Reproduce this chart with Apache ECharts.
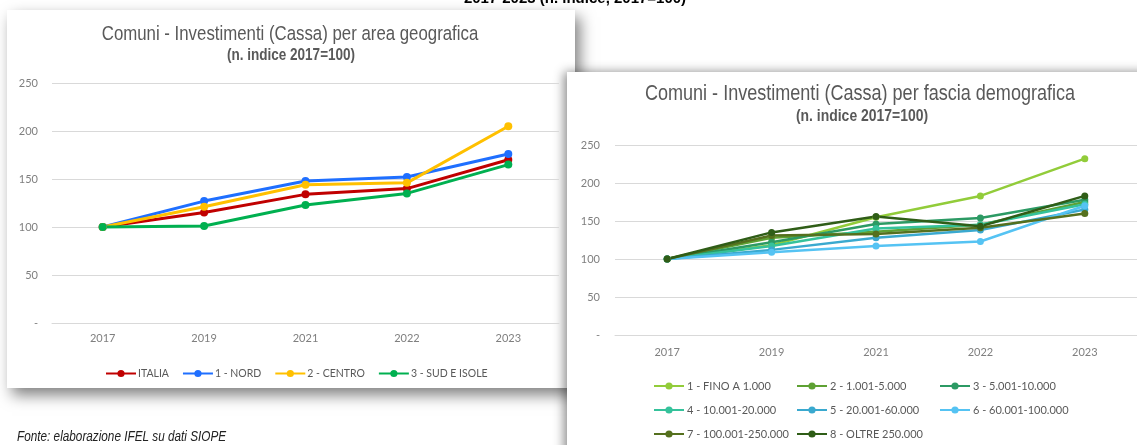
<!DOCTYPE html>
<html>
<head>
<meta charset="utf-8">
<script src="https://cdn.jsdelivr.net/npm/echarts@6/dist/echarts.min.js"></script>
<style>
  html, body { margin: 0; padding: 0; background: #fff; }
  #main { width: 1137px; height: 445px; }
</style>
</head>
<body>
<div id="main"></div>
<script>
var anni = ['2017', '2019', '2021', '2022', '2023'];
var yTicks = [0, 50, 100, 150, 200, 250];

// area geografica
var areeNomi = ['ITALIA', '1 - NORD', '2 - CENTRO', '3 - SUD E ISOLE'];
var italia = [100, 115, 134, 140, 170];
var nord = [100, 127, 148, 152, 176];
var centro = [100, 121, 144, 146, 205];
var sud = [100, 101, 123, 135, 165];
var areeValori = [italia, nord, centro, sud];
var areeColori = ['#c00000', '#1f6fff', '#ffc000', '#00b050'];

// fascia demografica
var fasceNomi = ['1 - FINO A 1.000', '2 - 1.001-5.000', '3 - 5.001-10.000', '4 - 10.001-20.000',
  '5 - 20.001-60.000', '6 - 60.001-100.000', '7 - 100.001-250.000', '8 - OLTRE 250.000'];
var fascia1 = [100, 118, 155, 183, 232];
var fascia2 = [100, 128, 136, 145, 175];
var fascia3 = [100, 122, 146, 154, 178];
var fascia4 = [100, 117, 140, 145, 172];
var fascia5 = [100, 112, 128, 138, 165];
var fascia6 = [100, 109, 117, 123, 170];
var fascia7 = [100, 131, 133, 141, 160];
var fascia8 = [100, 135, 156, 143, 183];
var fasceValori = [fascia1, fascia2, fascia3, fascia4, fascia5, fascia6, fascia7, fascia8];
var fasceColori = ['#92cc3a', '#5ea133', '#2c9a64', '#35c29b', '#3aa9cf', '#55c3f3', '#55701e', '#2f5d17'];

var arial = "'Liberation Sans', Arial, sans-serif";
var labelFont = "Lato, 'Open Sans', sans-serif";

var myChart = echarts.init(document.getElementById('main'));

function asseY(idx) {
  return {
    type: 'value', gridIndex: idx,
    min: yTicks[0], max: yTicks[yTicks.length - 1], interval: 50,
    axisLine: { show: false }, axisTick: { show: false },
    axisLabel: {
      color: '#7f7f7f', fontSize: 11, fontFamily: labelFont, margin: idx === 0 ? 14 : 15,
      formatter: function (v) { return v === 0 ? '-' : v; }
    },
    splitLine: { lineStyle: { color: '#d9d9d9', width: 1 } }
  };
}
function asseX(idx) {
  return {
    type: 'category', gridIndex: idx, data: anni, boundaryGap: true,
    axisLine: { lineStyle: { color: '#d9d9d9' } }, axisTick: { show: false },
    axisLabel: { color: '#7f7f7f', fontSize: 11, fontFamily: labelFont, margin: idx === 0 ? 10 : 12 }
  };
}
// testo "narrow": Arial compresso in orizzontale
function testo(x, y, txt, font, fill, align, sx) {
  return { type: 'text', z: 10, x: x, y: y, scaleX: sx,
    style: { text: txt, font: font, fill: fill, textAlign: align, textVerticalAlign: 'middle' } };
}

var series = [];
for (var i = 0; i < areeNomi.length; i++) {
  series.push({
    name: areeNomi[i], type: 'line', xAxisIndex: 0, yAxisIndex: 0,
    data: areeValori[i], symbol: 'circle', symbolSize: 8,
    lineStyle: { width: 3, color: areeColori[i] },
    itemStyle: { color: areeColori[i] }
  });
}
for (var j = 0; j < fasceNomi.length; j++) {
  series.push({
    name: fasceNomi[j], type: 'line', xAxisIndex: 1, yAxisIndex: 1,
    data: fasceValori[j], symbol: 'circle', symbolSize: 7,
    lineStyle: { width: 2.5, color: fasceColori[j] },
    itemStyle: { color: fasceColori[j] }
  });
}

var option = {
  backgroundColor: '#ffffff',
  animation: false,
  graphic: [
    // pannello sinistro
    { type: 'rect', z: -20, shape: { x: 7, y: 10, width: 568, height: 378 },
      style: { fill: '#fff', shadowBlur: 14, shadowOffsetX: 5, shadowOffsetY: 7, shadowColor: 'rgba(0,0,0,0.5)' } },
    // pannello destro
    { type: 'rect', z: -15, shape: { x: 567, y: 72, width: 600, height: 400 },
      style: { fill: '#fff', shadowBlur: 10, shadowOffsetX: -3, shadowOffsetY: 0, shadowColor: 'rgba(0,0,0,0.45)' } },
    testo(575, -1, '2017-2023 (n. indice, 2017=100)', 'bold 15px ' + arial, '#000', 'center', 1),
    testo(290, 34, 'Comuni - Investimenti (Cassa) per area geografica', '20.5px ' + arial, '#595959', 'center', 0.82),
    testo(291, 55, '(n. indice 2017=100)', 'bold 16.5px ' + arial, '#595959', 'center', 0.82),
    testo(860, 94, 'Comuni - Investimenti (Cassa) per fascia demografica', '22px ' + arial, '#595959', 'center', 0.82),
    testo(862, 116, '(n. indice 2017=100)', 'bold 17px ' + arial, '#595959', 'center', 0.82),
    testo(17, 437, 'Fonte: elaborazione IFEL su dati SIOPE', 'italic 14px ' + arial, '#222', 'left', 0.84)
  ],
  grid: [
    { left: 52, top: 83, width: 507, height: 240 },
    { left: 615, top: 145, width: 522, height: 190 }
  ],
  xAxis: [asseX(0), asseX(1)],
  yAxis: [asseY(0), asseY(1)],
  legend: [
    { data: areeNomi, left: 100, top: 363, itemWidth: 30, itemHeight: 9, itemGap: 13,
      textStyle: { color: '#595959', fontSize: 10.5, fontFamily: labelFont, padding: [0, 0, 0, -3] } },
    { data: fasceNomi, left: 648, top: 369, width: 440, itemWidth: 30, itemHeight: 9, itemGap: 0,
      textStyle: { color: '#595959', fontSize: 11, fontFamily: labelFont, width: 109, lineHeight: 24, padding: [0, 0, 0, -2] } }
  ],
  series: series
};
myChart.setOption(option);
</script>
</body>
</html>
